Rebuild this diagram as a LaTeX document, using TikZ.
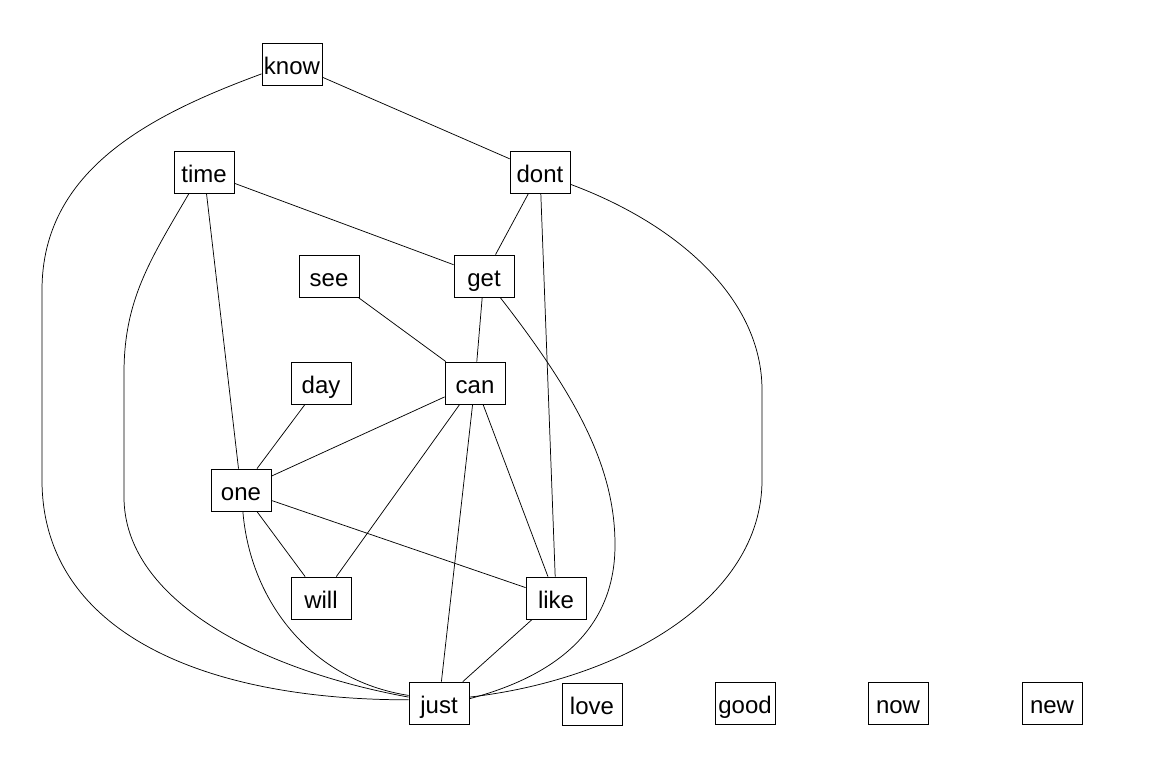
\documentclass[tikz,border=0pt]{standalone}
\usepackage{fontspec}
\setmainfont{Liberation Sans}
\begin{document}
\begin{tikzpicture}[x=0.75pt,y=-0.75pt,
  word/.style={draw,line width=0.6pt,minimum width=45pt,minimum height=31.5pt,inner sep=0pt,text height=15pt,text depth=0pt,font=\fontsize{18pt}{20pt}\selectfont},
  edge/.style={line width=0.55pt}]
\useasboundingbox (0,0) rectangle (1152,768);
\node[word] (know) at (292,64) {know};
\node[word] (time) at (204,172) {time};
\node[word] (dont) at (540,172) {dont};
\node[word] (see) at (329,276) {see};
\node[word] (get) at (484,276) {get};
\node[word] (day) at (321,383) {day};
\node[word] (can) at (475,383) {can};
\node[word] (one) at (241,490) {one};
\node[word] (will) at (321,598) {will};
\node[word] (like) at (556,598) {like};
\node[word] (just) at (439,703) {just};
\node[word] (love) at (592,704) {love};
\node[word] (good) at (745,703) {good};
\node[word] (now) at (898,703) {now};
\node[word] (new) at (1052,703) {new};
% straight edges
\draw[edge] (know) -- (dont);
\draw[edge] (time) -- (get);
\draw[edge] (time) -- (one);
\draw[edge] (dont) -- (get);
\draw[edge] (dont) -- (like);
\draw[edge] (see) -- (can);
\draw[edge] (get) -- (can);
\draw[edge] (day) -- (one);
\draw[edge] (can) -- (one);
\draw[edge] (can) -- (will);
\draw[edge] (can) -- (just);
\draw[edge] (can) -- (like);
\draw[edge] (one) -- (will);
\draw[edge] (one) -- (like);
\draw[edge] (like) -- (just);
% curved edges
\draw[edge] (know.198) .. controls (150,115) and (42,170) .. (42,290) -- (42,480) .. controls (42,630) and (200,700) .. (just.174);
\draw[edge] (time.235) .. controls (150,260) and (124,300) .. (124,373) -- (124,497) .. controls (124,600) and (260,670) .. (just.169);
\draw[edge] (dont.-22) .. controls (680,225) and (762,300) .. (762,390) -- (762,480) .. controls (762,600) and (620,680) .. (just.11);
\draw[edge] (get.-53) .. controls (580,400) and (615,470) .. (615,545) .. controls (615,640) and (540,680) .. (just.8);
\draw[edge] (one.-85) .. controls (250,600) and (310,680) .. (just.166);
\end{tikzpicture}
\end{document}
